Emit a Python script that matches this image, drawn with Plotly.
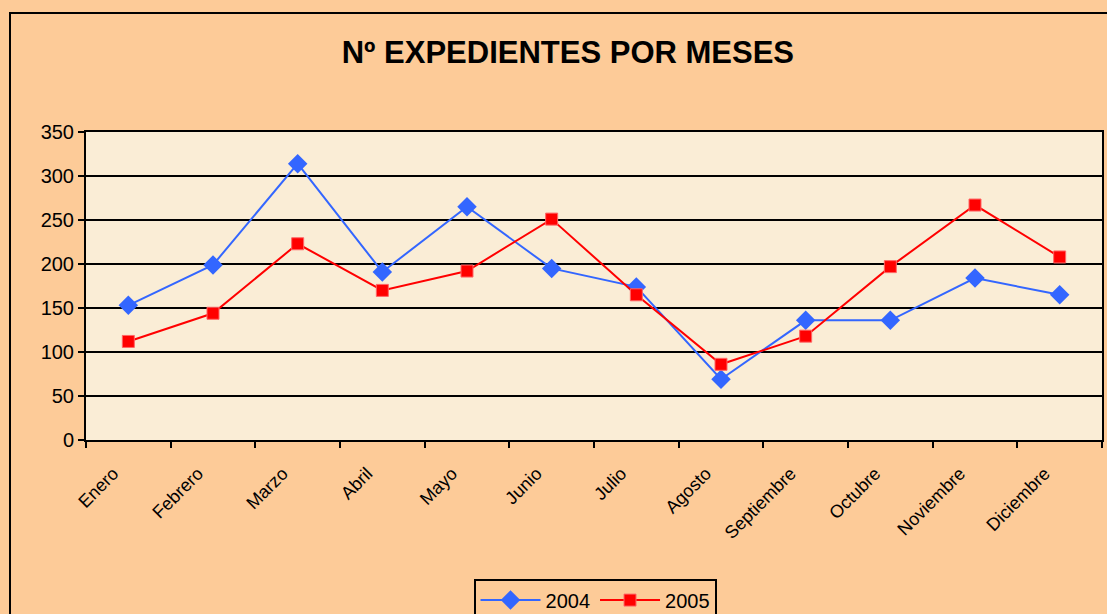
import plotly.graph_objects as go

meses = ['Enero', 'Febrero', 'Marzo', 'Abril', 'Mayo', 'Junio', 'Julio',
         'Agosto', 'Septiembre', 'Octubre', 'Noviembre', 'Diciembre']
exp_2004 = [153, 199, 314, 191, 265, 195, 174, 69, 136, 136, 184, 165]
exp_2005 = [112, 144, 223, 170, 192, 251, 165, 86, 118, 197, 267, 208]

fig = go.Figure()
fig.add_trace(go.Scatter(x=meses, y=exp_2004, name='2004', mode='lines+markers',
                         line=dict(color='#3366FF', width=2),
                         marker=dict(symbol='diamond', size=15, color='#3366FF')))
fig.add_trace(go.Scatter(x=meses, y=exp_2005, name='2005', mode='lines+markers',
                         line=dict(color='#FF0000', width=2),
                         marker=dict(symbol='square', size=12, color='#FF0000',
                                     line=dict(color='#FF6666', width=1))))

# outer chart frame (runs off the page on right/bottom like the original)
fig.add_shape(type='rect', xref='paper', yref='paper',
              x0=-0.0748, x1=1.08, y0=-0.8, y1=1.386,
              line=dict(color='black', width=2), layer='below')

fig.update_layout(
    width=1107, height=614,
    margin=dict(l=86, r=5, t=132, b=174, autoexpand=False),
    paper_bgcolor='#FDCB98',
    plot_bgcolor='#FAEDD6',
    font=dict(family='Liberation Sans, Arial, sans-serif', color='black'),
    title=dict(text='<b>Nº EXPEDIENTES POR MESES</b>', x=0.513, xanchor='center',
               y=0.915, yanchor='middle', font=dict(size=31, color='black')),
    legend=dict(orientation='h', x=0.501, xanchor='center', y=-0.45, yanchor='top',
                bgcolor='#FDCB98', bordercolor='black', borderwidth=2,
                font=dict(size=20), itemwidth=60, tracegroupgap=0),
    showlegend=True,
)
fig.update_xaxes(type='category', range=[-0.5, 11.5], tickangle=-45, ticks='outside',
                 tickson='boundaries', ticklen=6, tickcolor='black', tickwidth=2,
                 ticklabelshift=-15, ticklabelstandoff=14,
                 showline=True, linecolor='black', linewidth=2, mirror=True,
                 showgrid=False, automargin=False,
                 tickfont=dict(size=18))
fig.update_yaxes(range=[0, 350], dtick=50, ticks='outside', ticklen=6, tickcolor='black',
                 tickwidth=2, showline=True, linecolor='black', linewidth=2, mirror=True,
                 showgrid=True, gridcolor='black', gridwidth=1.5, zeroline=False,
                 automargin=False, tickfont=dict(size=20))

# drop the default page margin so the chart sits at the window origin
fig.write_html('out.html', config={'displayModeBar': False},
               post_script="document.body.style.margin='0';")
